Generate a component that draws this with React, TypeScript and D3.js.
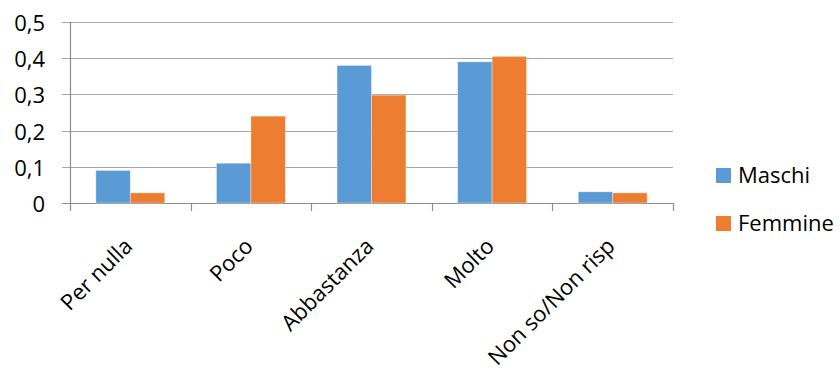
import React from "react";
import * as d3 from "d3";

const categories = ["Per nulla", "Poco", "Abbastanza", "Molto", "Non so/Non risp"];
const seriesNames = ["Maschi", "Femmine"];
const maschi = [0.09, 0.11, 0.38, 0.39, 0.031];
const femmine = [0.028, 0.24, 0.298, 0.405, 0.028];
const yTicks = [0, 0.1, 0.2, 0.3, 0.4, 0.5];
const colors = ["#5b9bd5", "#ed7d31"];

const W = 840;
const H = 370;
const plot = { left: 70, right: 673, top: 22, bottom: 203 };
const FONT = "'Open Sans', sans-serif";

export default function App() {
  const x = d3
    .scaleBand<string>()
    .domain(categories)
    .range([plot.left, plot.right])
    .paddingInner(0)
    .paddingOuter(0);
  const y = d3.scaleLinear().domain([0, 0.5]).range([plot.bottom, plot.top]);
  const bw = x.bandwidth();
  const barW = bw / 3.5;
  const groupOffset = (bw - 2 * barW) / 2;
  const series = [maschi, femmine];
  const fmt = (v: number) => d3.format(".1f")(v).replace(".", ",");

  return (
    <svg
      width={W}
      height={H}
      style={{ position: "absolute", left: 0, top: 0, background: "#fff" }}
      fontFamily={FONT}
    >
      {/* horizontal gridlines with left tick stubs */}
      {yTicks.map((t) => (
        <g key={t}>
          <line
            x1={plot.left - 8}
            x2={plot.right}
            y1={Math.round(y(t)) + 0.5}
            y2={Math.round(y(t)) + 0.5}
            stroke={t === 0 ? "#8c8c8c" : "#a6a6a6"}
            strokeWidth={1.2}
          />
          <text
            x={45}
            y={y(t)}
            textAnchor="end"
            dominantBaseline="central"
            fontSize={22}
            fill="#000"
          >
            {t === 0 ? "0" : fmt(t)}
          </text>
        </g>
      ))}
      {/* value axis */}
      <line
        x1={plot.left + 0.5}
        x2={plot.left + 0.5}
        y1={plot.top}
        y2={plot.bottom + 8}
        stroke="#8c8c8c"
        strokeWidth={1.2}
      />
      {/* category tick marks */}
      {categories.map((c) => (
        <line
          key={c}
          x1={Math.round((x(c) as number) + bw) + 0.5}
          x2={Math.round((x(c) as number) + bw) + 0.5}
          y1={plot.bottom}
          y2={plot.bottom + 8}
          stroke="#8c8c8c"
          strokeWidth={1.2}
        />
      ))}
      {/* bars */}
      {series.map((vals, si) =>
        vals.map((v, i) => {
          const c = categories[i];
          const bx = (x(c) as number) + groupOffset + si * barW;
          return (
            <rect
              key={`${si}-${i}`}
              x={bx}
              y={y(v)}
              width={barW}
              height={y(0) - y(v)}
              fill={colors[si]}
              stroke="#ffffff"
              strokeOpacity={0.45}
              strokeWidth={0.8}
            />
          );
        })
      )}
      {/* category labels */}
      {categories.map((c) => {
        const cx = (x(c) as number) + bw / 2;
        return (
          <text
            key={c}
            transform={`translate(${cx - 10},${plot.bottom + 31}) rotate(-45)`}
            textAnchor="end"
            dominantBaseline="hanging"
            fontSize={22}
            fill="#000"
          >
            {c}
          </text>
        );
      })}
      {/* legend */}
      {seriesNames.map((s, i) => (
        <g key={s} transform={`translate(716,${168 + i * 48})`}>
          <rect width={15} height={15} fill={colors[i]} />
          <text x={22} y={15} fontSize={22} fill="#000">
            {s}
          </text>
        </g>
      ))}
    </svg>
  );
}
